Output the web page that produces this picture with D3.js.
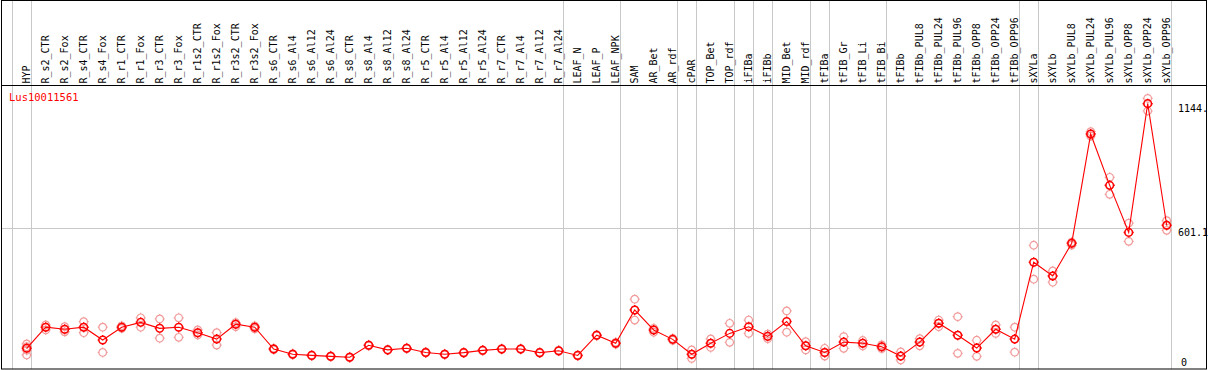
<!DOCTYPE html>
<html>
<head>
<meta charset="utf-8">
<script src="https://cdn.jsdelivr.net/npm/d3@7"></script>
<style>
  body { margin: 0; background: #fff; }
  svg { display: block; }
  text { font-family: "DejaVu Sans Mono", "Liberation Mono", monospace; font-size: 10px; }
</style>
</head>
<body>
<svg></svg>
<script>
// Samples (x categories)
const samples = [
  "HYP", "R_s2_CTR", "R_s2_Fox", "R_s4_CTR", "R_s4_Fox", "R_r1_CTR", "R_r1_Fox",
  "R_r3_CTR", "R_r3_Fox", "R_r1s2_CTR", "R_r1s2_Fox", "R_r3s2_CTR", "R_r3s2_Fox",
  "R_s6_CTR", "R_s6_Al4", "R_s6_Al12", "R_s6_Al24", "R_s8_CTR", "R_s8_Al4",
  "R_s8_Al12", "R_s8_Al24", "R_r5_CTR", "R_r5_Al4", "R_r5_Al12", "R_r5_Al24",
  "R_r7_CTR", "R_r7_Al4", "R_r7_Al12", "R_r7_Al24", "LEAF_N", "LEAF_P", "LEAF_NPK",
  "SAM", "AR_Bet", "AR_rdf", "cPAR", "TOP_Bet", "TOP_rdf", "iFIBa", "iFIBb",
  "MID_Bet", "MID_rdf", "tFIBa", "tFIB_Gr", "tFIB_Li", "tFIB_Bi", "tFIBb",
  "tFIBb_PUL8", "tFIBb_PUL24", "tFIBb_PUL96", "tFIBb_OPP8", "tFIBb_OPP24", "tFIBb_OPP96",
  "sXYLa", "sXYLb", "sXYLb_PUL8", "sXYLb_PUL24", "sXYLb_PUL96", "sXYLb_OPP8",
  "sXYLb_OPP24", "sXYLb_OPP96"
];

// Last sample of each tissue group (a separator follows it)
const groupEnds = [
  "HYP", "R_r7_Al24", "LEAF_NPK", "AR_rdf", "cPAR", "TOP_rdf", "iFIBa", "iFIBb",
  "MID_rdf", "tFIBa", "tFIB_Bi", "tFIBb_OPP96", "sXYLa", "sXYLb_OPP96"
];

// Mean expression per sample
const means = [
  78, 170, 161, 170, 114, 170, 191, 165, 170, 146, 118, 183, 170,
  75, 52, 47, 43, 39, 91, 71, 78, 60, 52, 59, 69, 75, 75, 59, 67,
  47, 135, 100, 245, 158, 117, 52, 100, 143, 172, 130, 195, 89,
  60, 105, 100, 85, 44, 105, 187, 135, 79, 161, 118,
  453, 393, 536, 1012, 788, 583, 1144, 614
];

// Replicate values per sample
const replicates = [
  [97, 85, 70, 49], [180, 170, 158], [172, 160, 150], [194, 170, 146], [170, 60],
  [176, 170, 165], [211, 170], [206, 122], [211, 126], [158, 146, 136], [146, 92],
  [190, 183, 172], [176, 170, 163], [78, 72], [55, 50], [49, 46], [45, 41], [41, 37],
  [93, 89], [73, 69], [80, 76], [62, 58], [54, 50], [61, 57], [71, 67], [77, 73],
  [77, 73], [61, 57], [69, 65], [49, 45], [137, 133], [104, 96], [292, 245, 201],
  [165, 158, 148], [121, 117, 113], [71, 52, 34], [119, 100, 82], [187, 104],
  [201, 143], [140, 130, 120], [241, 148], [107, 89, 71], [78, 60, 44],
  [129, 105, 78], [112, 100, 88], [93, 85, 77], [62, 44, 27], [120, 105, 89],
  [201, 187, 172], [216, 135, 56], [113, 79, 43], [180, 161, 143], [170, 118, 61],
  [527, 379], [415, 393, 366], [541, 536, 528], [1022, 1012, 1003], [823, 788, 749],
  [623, 583, 544], [1167, 1144, 1112], [634, 614, 592]
];

const geneName = "Lus10011561";
const yMax = 1202.2;          // axis top value
const yTicks = [601.1];       // gridline values
const yLabels = [["1144.", 1144], ["601.1", 601.1], ["0", 0]];

const W = 1209, H = 370;
const svg = d3.select("svg").attr("width", W).attr("height", H);

const x = d3.scalePoint().domain(samples).range([26.7, 1166.7]);
const y = d3.scaleLinear().domain([0, yMax]).range([366.2, 90.3]);

const headerY = 85.5;
const plotRight = 1170.5;

// Group separators
const sepX = [x(samples[0]) - 15].concat(groupEnds.map(s => x(s) + 4));
svg.append("g")
  .selectAll("line")
  .data(sepX)
  .join("line")
  .attr("x1", d => Math.round(d) + 0.5)
  .attr("x2", d => Math.round(d) + 0.5)
  .attr("y1", 0)
  .attr("y2", 369)
  .attr("stroke", "#c8c8c8")
  .attr("stroke-width", 1);

// Horizontal gridline
svg.append("g")
  .selectAll("line")
  .data(yTicks)
  .join("line")
  .attr("x1", 1)
  .attr("x2", plotRight)
  .attr("y1", d => Math.round(y(d)) + 0.5)
  .attr("y2", d => Math.round(y(d)) + 0.5)
  .attr("stroke", "#c8c8c8");

// Frame
svg.append("rect")
  .attr("x", 1.5).attr("y", 0.5)
  .attr("width", 1205).attr("height", 368.5)
  .attr("fill", "none").attr("stroke", "#000");
svg.append("line")
  .attr("x1", 1).attr("x2", 1207)
  .attr("y1", headerY).attr("y2", headerY)
  .attr("stroke", "#000");

// Sample labels (rotated)
svg.append("g")
  .selectAll("text")
  .data(samples)
  .join("text")
  .attr("transform", d => `translate(${x(d) + 3.5}, ${headerY - 2}) rotate(-90)`)
  .attr("fill", "#000")
  .text(d => d);

// Gene name
svg.append("text")
  .attr("x", 9).attr("y", 100.5)
  .attr("fill", "#ff0000")
  .style("font-size", "10.5px")
  .text(geneName);

// Right-hand value labels
svg.append("g")
  .selectAll("text")
  .data(yLabels)
  .join("text")
  .attr("x", d => d[1] === 0 ? 1181 : 1178)
  .attr("y", d => d[1] === 0 ? 366 : y(d[1]) + 8)
  .attr("fill", "#000")
  .text(d => d[0]);

// Marker: circle with four small spikes
function marker(r) {
  const s = 1.2;
  return `M${r},0A${r},${r} 0 1,1 ${-r},0A${r},${r} 0 1,1 ${r},0Z` +
    `M0,${-r}V${-r - s}M0,${r}V${r + s}M${-r},0H${-r - s}M${r},0H${r + s}`;
}

// Replicates
const repPts = samples.flatMap((s, i) => replicates[i].map(v => ({ s, v })));
svg.append("g")
  .selectAll("path")
  .data(repPts)
  .join("path")
  .attr("transform", d => `translate(${x(d.s)}, ${y(d.v)})`)
  .attr("d", marker(3.8))
  .attr("fill", "none")
  .attr("stroke", "#f29a9a")
  .attr("stroke-width", 1.2);

// Mean line
const line = d3.line()
  .x((d, i) => x(samples[i]))
  .y(d => y(d));
svg.append("path")
  .datum(means)
  .attr("d", line)
  .attr("fill", "none")
  .attr("stroke", "#ff0000")
  .attr("stroke-width", 1.1);

// Mean markers
svg.append("g")
  .selectAll("path")
  .data(means)
  .join("path")
  .attr("transform", (d, i) => `translate(${x(samples[i])}, ${y(d)})`)
  .attr("d", marker(3.8))
  .attr("fill", "none")
  .attr("stroke", "#ff0000")
  .attr("stroke-width", 1.5);
</script>
</body>
</html>
